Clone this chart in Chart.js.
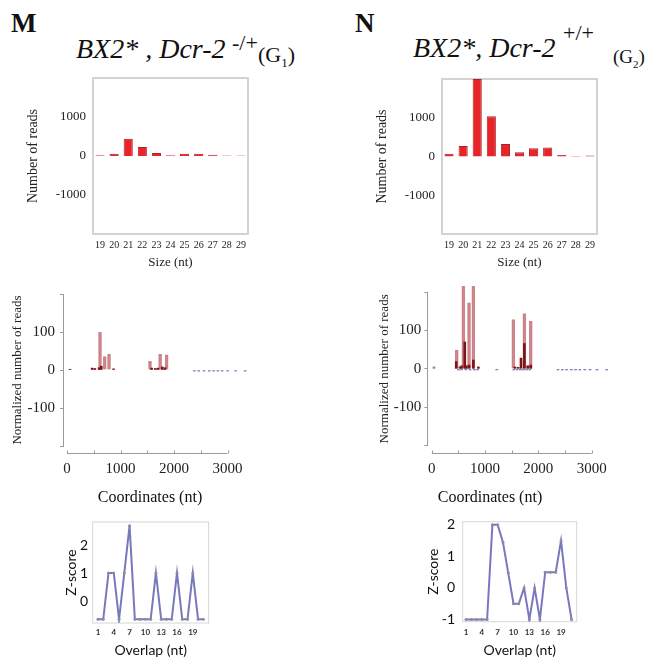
<!DOCTYPE html>
<html lang="en">
<head>
<meta charset="UTF-8" />
<title>BX2* Dcr-2 small RNA profiles</title>
<script src="https://cdn.jsdelivr.net/npm/chart.js@4.4.1/dist/chart.umd.min.js"></script>
<style>
  body { margin: 0; background: #fff; }
  #fig { position: relative; width: 663px; height: 661px; overflow: hidden; color: #111;
         font-family: "Liberation Serif", "Times New Roman", serif; }
  #fig canvas { position: absolute; }
  .lbl { position: absolute; line-height: 1; white-space: nowrap; }
  .panel { font-weight: bold; font-size: 27px; }
  .geno { font-style: italic; font-size: 28px; }
  .axt { font-size: 16px; width: 200px; text-align: center; }
</style>
</head>
<body>
<div id="fig">
  <div class="lbl panel" style="left:11px; top:10px;">M</div>
  <div class="lbl geno" style="left:76px; top:35px;">BX2* , Dcr-2</div>
  <div class="lbl" style="left:232px; top:32px; font-size:22px;">-/+</div>
  <div class="lbl" style="left:258px; top:44px; font-size:22px;">(G<sub style="font-size:13px;">1</sub>)</div>

  <div class="lbl panel" style="left:355px; top:10px;">N</div>
  <div class="lbl geno" style="left:413px; top:34px;">BX2*, Dcr-2</div>
  <div class="lbl" style="left:563px; top:22px; font-size:22px;">+/+</div>
  <div class="lbl" style="left:613px; top:47px; font-size:19px;">(G<sub style="font-size:11px;">2</sub>)</div>

  <canvas id="sizeM" width="270" height="215" style="left:0px; top:60px;"></canvas>
  <canvas id="sizeN" width="270" height="215" style="left:350px; top:60px;"></canvas>
  <canvas id="covM" width="290" height="230" style="left:0px; top:280px;"></canvas>
  <canvas id="covN" width="290" height="230" style="left:350px; top:280px;"></canvas>
  <canvas id="zM" width="180" height="156" style="left:50px; top:505px;"></canvas>
  <canvas id="zN" width="200" height="156" style="left:400px; top:505px;"></canvas>

  <div class="lbl axt" style="left:50px; top:489px;">Coordinates (nt)</div>
  <div class="lbl axt" style="left:390px; top:489px;">Coordinates (nt)</div>
</div>

<script>
// read size distribution (number of reads per length)
const sizeLabels = ['19', '20', '21', '22', '23', '24', '25', '26', '27', '28', '29'];
const readsM = [20, 60, 440, 230, 80, 20, 60, 60, 30, 15, 10];
const readsN = [70, 270, 2000, 1040, 320, 110, 210, 230, 40, 15, 25];
const readsTicks = [-1000, 0, 1000];

// coverage along the transgene (normalized reads)
const coordTicks = [0, 1000, 2000, 3000];
const coordMarks = [0, 500, 1000, 1500, 2000, 2500, 3000];
const normTicks = [-200, -100, 0, 100, 200];

const covLightPosM = [617, 705, 785, 1551, 1740, 1862];
const covLightValM = [100, 35, 42, 23, 41, 40];
const covDarkPosM = [56, 470, 520, 600, 640, 870, 1580, 1650, 1700, 1780, 1830];
const covDarkValM = [2, 5, 4, 6, 10, 3, 5, 4, 5, 8, 6];
const covBluePosM = [2380, 2460, 2560, 2660, 2740, 2820, 2900, 3000, 3150, 3330];
const covBlueValM = [-3, -3, -3, -3, -3, -3, -3, -3, -3, -3];

const covLightPosN = [469, 593, 700, 781, 1531, 1738, 1857];
const covLightValN = [49, 215, 172, 215, 128, 144, 124];
const covDarkPosN = [460, 530, 560, 620, 650, 700, 781, 875, 1560, 1620, 1675, 1738, 1800, 1857];
const covDarkValN = [19, 5, 8, 70, 8, 10, 23, 5, 5, 4, 28, 66, 8, 10];
const covBluePosN = [43, 500, 560, 640, 720, 800, 860, 1220, 1540, 1600, 1660, 1720, 1780, 1840,
                     2370, 2450, 2530, 2620, 2700, 2780, 2870, 2970, 3100, 3280];
const covBlueValN = [5, -3, -3, -3, -3, -3, -3, -3, -3, -3, -3, -3, -3, -3,
                     -3, -3, -3, -3, -3, -3, -3, -3, -3, -3];

// overlap z-scores
const overlapX = [1, 2, 3, 4, 5, 6, 7, 8, 9, 10, 11, 12, 13, 14, 15, 16, 17, 18, 19, 20, 21];
const zScoreM = [-0.62, -0.62, 1.02, 1.02, -0.62, 1.02, 2.69, -0.62, -0.62, -0.62, -0.62,
                 1.02, -0.62, -0.62, -0.62, 1.02, -0.62, -0.62, 1.02, -0.62, -0.62];
const zScoreN = [-1, -1, -1, -1, -1, 2, 2, 1.45, 0.48, -0.5, -0.5, 0, -1, 0, -1,
                 0.5, 0.5, 0.5, 1.5, 0, -1];
const overlapTicks = [1, 4, 7, 10, 13, 16, 19];
const zTicksM = [0, 1, 2];
const zTicksN = [-1, 0, 1, 2];

const SERIF = '"Liberation Serif", "Times New Roman", serif';
const SANS = 'Lato, "Open Sans", sans-serif';

const pairs = (xs, ys) => xs.map((x, i) => ({ x: x, y: ys[i] }));
const fixTicks = list => scale => { scale.ticks = list.map(v => ({ value: v })); };
const plain = v => String(v);

// light grey box round the plot area
const frame = {
  id: 'frame',
  beforeDatasetsDraw(chart, args, opts) {
    const a = chart.chartArea, ctx = chart.ctx;
    ctx.save();
    ctx.strokeStyle = opts.color || '#d0d0d0';
    ctx.lineWidth = opts.width || 1;
    ctx.strokeRect(a.left, a.top, a.right - a.left, a.bottom - a.top);
    ctx.restore();
  }
};

// R style x axis: line from first to last mark, set a little below the plot
const coordAxis = {
  id: 'coordAxis',
  afterDraw(chart) {
    const x = chart.scales.x, ctx = chart.ctx;
    const y = Math.round(chart.chartArea.bottom + 7) + 0.5;
    ctx.save();
    ctx.strokeStyle = '#9a9a9a';
    ctx.lineWidth = 1;
    ctx.beginPath();
    ctx.moveTo(x.getPixelForValue(coordMarks[0]), y);
    ctx.lineTo(x.getPixelForValue(coordMarks[coordMarks.length - 1]), y);
    coordMarks.forEach(v => {
      const px = Math.round(x.getPixelForValue(v)) + 0.5;
      ctx.moveTo(px, y);
      ctx.lineTo(px, y - 3);
    });
    ctx.stroke();
    ctx.restore();
  }
};

function sizeChart(id, values, b) {
  return new Chart(document.getElementById(id), {
    type: 'bar',
    data: {
      labels: sizeLabels,
      datasets: [{
        data: values,
        backgroundColor: '#e8232a',
        borderColor: '#a82424',
        borderWidth: 1,
        barPercentage: 0.72,
        categoryPercentage: 0.9
      }]
    },
    options: {
      responsive: false,
      animation: false,
      layout: { padding: { left: 0, top: b.top, right: b.right, bottom: 0 } },
      plugins: { legend: { display: false }, tooltip: { enabled: false }, frame: { color: '#d3d3d3', width: 2 } },
      scales: {
        x: {
          grid: { display: false, drawTicks: false },
          border: { display: false },
          ticks: { autoSkip: false, maxRotation: 0, padding: 5, color: '#222', font: { family: SERIF, size: 10 } },
          title: { display: true, text: 'Size (nt)', color: '#222', font: { family: SERIF, size: 13 }, padding: { top: 0, bottom: 5 } },
          afterFit: s => { s.height = b.xh; }
        },
        y: {
          min: -2000,
          max: 2000,
          afterBuildTicks: fixTicks(readsTicks),
          grid: { display: false, drawTicks: false },
          border: { display: false },
          ticks: { padding: 7, color: '#222', font: { family: SERIF, size: 13 }, callback: plain },
          title: { display: true, text: 'Number of reads', color: '#222', font: { family: SERIF, size: 14 }, padding: { top: b.tpad, bottom: 0 } },
          afterFit: s => { s.width = b.yw; }
        }
      }
    },
    plugins: [frame]
  });
}

function coverageChart(id, light, dark, blue, b) {
  return new Chart(document.getElementById(id), {
    type: 'bar',
    data: {
      datasets: [
        { data: dark, backgroundColor: '#7c1518', barThickness: 2, grouped: false, clip: false },
        { data: light, backgroundColor: 'rgba(200,100,108,0.55)', borderColor: 'rgba(170,60,70,0.6)', borderWidth: 1,
          barThickness: 3, grouped: false, clip: false },
        { data: blue, backgroundColor: 'rgba(70,74,166,0.7)', barThickness: 2, grouped: false, clip: false }
      ]
    },
    options: {
      responsive: false,
      animation: false,
      layout: { padding: { left: 0, top: b.top, right: b.right, bottom: 0 } },
      plugins: { legend: { display: false }, tooltip: { enabled: false } },
      scales: {
        x: {
          type: 'linear',
          offset: false,
          min: b.xmin,
          max: 3500,
          afterBuildTicks: fixTicks(coordTicks),
          grid: { display: false, drawTicks: false },
          border: { display: false },
          ticks: { padding: 14, color: '#222', font: { family: SERIF, size: 15 }, callback: plain },
          afterFit: s => { s.height = b.xh; }
        },
        y: {
          min: -200,
          max: 200,
          afterBuildTicks: fixTicks(normTicks),
          grid: { display: true, drawOnChartArea: false, drawTicks: true, tickLength: 3, color: '#9a9a9a' },
          border: { display: true, color: '#9a9a9a' },
          ticks: { padding: b.tickpad, color: '#222', font: { family: SERIF, size: 15 },
                   callback: v => (Math.abs(v) < 150 ? String(v) : '') },
          title: { display: true, text: 'Normalized number of reads', color: '#222', font: { family: SERIF, size: 13 }, padding: { top: b.tpad, bottom: 0 } },
          afterFit: s => { s.width = b.yw; }
        }
      }
    },
    plugins: [coordAxis]
  });
}

function zChart(id, values, yTicks, b) {
  return new Chart(document.getElementById(id), {
    type: 'line',
    data: {
      datasets: [{
        data: pairs(overlapX, values),
        borderColor: 'rgba(96,96,178,0.85)',
        borderWidth: 2,
        pointRadius: 1.5,
        pointBorderWidth: 0,
        pointBackgroundColor: '#8c8ca4',
        tension: 0
      }]
    },
    options: {
      responsive: false,
      animation: false,
      layout: { padding: { left: 0, top: b.top, right: b.right, bottom: 0 } },
      plugins: { legend: { display: false }, tooltip: { enabled: false }, frame: { color: '#d6d6d6', width: 1 } },
      scales: {
        x: {
          type: 'linear',
          min: b.xmin,
          max: b.xmax,
          afterBuildTicks: fixTicks(overlapTicks),
          grid: { display: false, drawTicks: false },
          border: { display: false },
          ticks: { padding: b.xpad, color: '#333', font: { family: SANS, size: 8, weight: 'bold' } },
          title: { display: true, text: 'Overlap (nt)', color: '#111', font: { family: SANS, size: 14 }, padding: { top: 0, bottom: 2.6 } },
          afterFit: s => { s.height = b.xh; }
        },
        y: {
          min: b.ymin,
          max: b.ymax,
          afterBuildTicks: fixTicks(yTicks),
          grid: { display: false, drawTicks: false },
          border: { display: false },
          ticks: { padding: b.tickpad, color: '#111', font: { family: SANS, size: 14 } },
          title: { display: true, text: 'Z-score', color: '#111', font: { family: SANS, size: 14 }, padding: { top: b.tpad, bottom: 0 } },
          afterFit: s => { s.width = b.yw; }
        }
      }
    },
    plugins: [frame]
  });
}

sizeChart('sizeM', readsM, { top: 18, right: 22, yw: 93, xh: 41, tpad: 25 });
sizeChart('sizeN', readsN, { top: 19, right: 23, yw: 92, xh: 41, tpad: 24 });

coverageChart('covM', pairs(covLightPosM, covLightValM), pairs(covDarkPosM, covDarkValM), pairs(covBluePosM, covBlueValM),
  { top: 12, right: 35.7, yw: 63, xh: 64, xmin: -75, tickpad: 5, tpad: 10 });
coverageChart('covN', pairs(covLightPosN, covLightValN), pairs(covDarkPosN, covDarkValN), pairs(covBluePosN, covBlueValN),
  { top: 11.7, right: 21.7, yw: 77.3, xh: 64.3, xmin: -83, tickpad: 3, tpad: 27 });

zChart('zM', zScoreM, zTicksM, { top: 17, right: 21.4, yw: 42.7, xh: 38, xmin: 0, xmax: 22, ymin: -0.75, ymax: 2.82, tickpad: 4.7, tpad: 12.6, xpad: 4.5 });
zChart('zN', zScoreN, zTicksN, { top: 16.7, right: 23.3, yw: 62.7, xh: 39.3, xmin: 0.375, xmax: 21.97, ymin: -1.07, ymax: 2.1, tickpad: 7.7, tpad: 24.6, xpad: 5.8 });
</script>
</body>
</html>
